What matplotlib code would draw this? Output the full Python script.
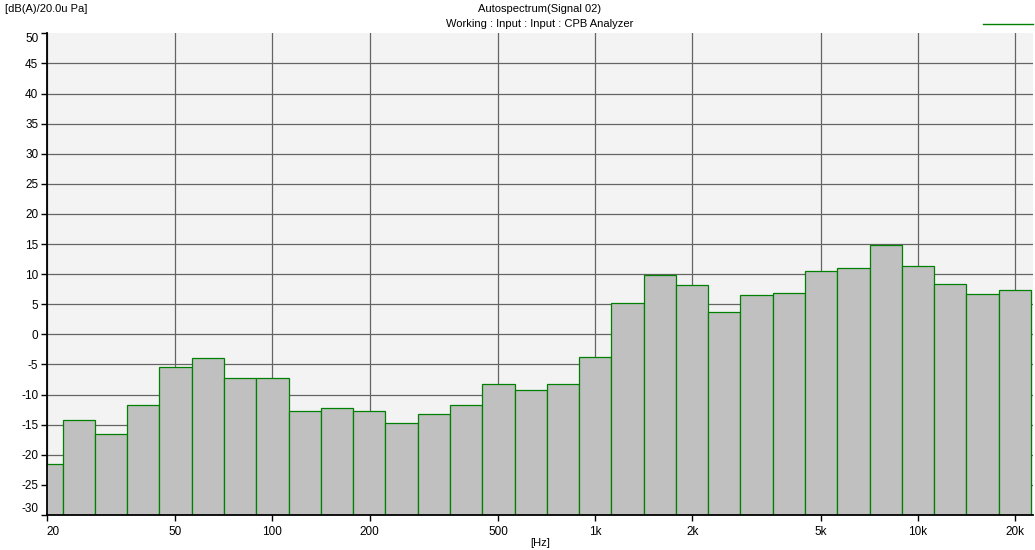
import numpy as np
import matplotlib
matplotlib.use("Agg")
from matplotlib import pyplot as plt
from matplotlib.lines import Line2D

plt.rcParams['font.family'] = ['Liberation Sans', 'DejaVu Sans']

# third-octave bands, 20 Hz .. 20 kHz (band index n -> 10^(n/10) Hz)
band_index = np.arange(13, 44)
band_names = ['20', '25', '31.5', '40', '50', '63', '80', '100', '125', '160', '200',
              '250', '315', '400', '500', '630', '800', '1k', '1.25k', '1.6k', '2k',
              '2.5k', '3.15k', '4k', '5k', '6.3k', '8k', '10k', '12.5k', '16k', '20k']
levels = [-21.5, -14.3, -16.5, -11.8, -5.5, -4.0, -7.3, -7.2, -12.7, -12.3, -12.7,
          -14.7, -13.2, -11.7, -8.2, -9.3, -8.2, -3.7, 5.2, 9.8, 8.2,
          3.7, 6.5, 6.8, 10.5, 11.0, 14.8, 11.3, 8.3, 6.7, 7.3]

xtick_vals = [20, 50, 100, 200, 500, 1000, 2000, 5000, 10000, 20000]
xtick_labels = ['20', '50', '100', '200', '500', '1k', '2k', '5k', '10k', '20k']
ytick_vals = list(range(-30, 55, 5))

W, H = 1035, 550
fig = plt.figure(figsize=(W / 100, H / 100), dpi=100)
ax = fig.add_axes([46.7 / W, 1 - 515 / H, (1033 - 46.7) / W, (515 - 33.3) / H])
ax.set_facecolor('#f3f3f3')

lo = 10 ** ((band_index - 0.5) / 10)
hi = 10 ** ((band_index + 0.5) / 10)
vals = np.array(levels)
ax.bar(lo, vals + 31, width=hi - lo, bottom=-31, align='edge',
       color='#c0c0c0', edgecolor='#008000', linewidth=0.9, zorder=3)

ax.set_xscale('log')
ax.set_xlim(20, 10 ** 4.356)
ax.set_ylim(-30, 50)

ax.set_xticks(xtick_vals)
ax.set_xticklabels(xtick_labels)
ax.xaxis.set_minor_locator(matplotlib.ticker.NullLocator())
ax.set_yticks(ytick_vals)
ax.set_yticklabels([str(v) for v in ytick_vals])

ax.grid(True, color='#646464', linewidth=0.9, zorder=1)
ax.set_axisbelow(True)
ax.yaxis.get_gridlines()[-1].set_visible(False)

for s in ['top', 'right']:
    ax.spines[s].set_visible(False)
for s in ['left', 'bottom']:
    ax.spines[s].set_color('black')
    ax.spines[s].set_linewidth(1.3)
    ax.spines[s].set_zorder(5)

ax.tick_params(axis='both', direction='out', length=4, width=1, color='black',
               labelsize=8.5, pad=2)
ax.tick_params(axis='x', pad=4)
xl = ax.get_xticklabels()
xl[0].set_horizontalalignment('left')
yl = ax.get_yticklabels()
yl[-1].set_verticalalignment('top')
yl[0].set_verticalalignment('bottom')

fig.text(5 / W, 1 - 9 / H, '[dB(A)/20.0u Pa]', fontsize=8, va='center', ha='left')
fig.text(540 / W, 1 - 9 / H, 'Autospectrum(Signal 02)', fontsize=8, va='center', ha='center')
fig.text(540 / W, 1 - 24 / H, 'Working : Input : Input : CPB Analyzer', fontsize=8,
         va='center', ha='center')
fig.text(540 / W, 1 - 543 / H, '[Hz]', fontsize=8, va='center', ha='center')
fig.add_artist(Line2D([983 / W, 1033 / W], [1 - 24 / H, 1 - 24 / H],
                      color='#008000', linewidth=1))

fig.savefig('out.png', dpi=100)
